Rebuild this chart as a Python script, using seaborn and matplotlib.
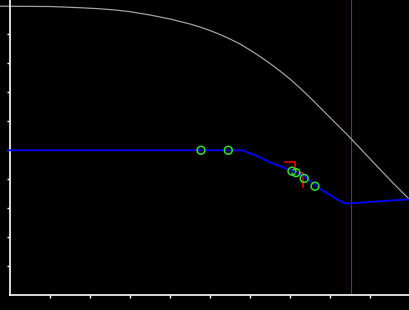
import matplotlib
matplotlib.use("Agg")
import matplotlib.pyplot as plt
import seaborn as sns
import pandas as pd

# Gray reference curve
gray_x = [-0.25, 1.0, 1.75, 2.25, 2.625, 3.0, 3.5, 4.0, 4.5, 4.75, 5.0, 5.25, 5.5, 5.75, 6.0, 6.25,
          6.5, 6.75, 7.0, 7.25, 7.5, 7.75, 8.0, 8.25, 8.5, 9.075, 9.575, 10.0]
gray_y = [9.959, 9.948, 9.907, 9.869, 9.828, 9.769, 9.655, 9.517, 9.345, 9.241, 9.121, 8.983, 8.828, 8.655, 8.448, 8.224,
          7.983, 7.724, 7.448, 7.138, 6.810, 6.466, 6.121, 5.776, 5.431, 4.586, 3.862, 3.276]

# Blue response curve
blue_x = [-0.05, 5.825, 5.95, 6.175, 6.5, 6.75, 7.0, 7.4, 7.675, 7.925, 8.175, 8.375, 8.5, 8.75, 9.0, 9.325, 9.75, 10.0]
blue_y = [4.99, 4.99, 4.91, 4.80, 4.57, 4.45, 4.31, 4.07, 3.73, 3.51, 3.30, 3.16, 3.16, 3.18, 3.21, 3.24, 3.28, 3.30]

# Green circle points
pts_x = [4.775, 5.4575, 7.05, 7.15, 7.355, 7.625]
pts_y = [4.99, 4.99, 4.27, 4.22, 4.02, 3.75]

# Red step mask
red_x = [6.875, 7.1125, 7.3175]
red_y = [4.576, 4.224, 3.734]

# Vertical marker
vline_x = 8.53

xticks = [1, 2, 3, 4, 5, 6, 7, 8, 9]
yticks = [1, 2, 3, 4, 5, 6, 7, 8, 9]

sns.set_style("dark", {"axes.facecolor": "black", "figure.facecolor": "black"})
plt.rcParams["font.family"] = ["DejaVu Sans"]

fig = plt.figure(figsize=(4.1, 3.1), dpi=100)
fig.patch.set_facecolor("black")
ax = fig.add_axes([10 / 410, 15 / 310, 400 / 410, 295 / 310])
ax.set_facecolor("black")

ax.axvline(vline_x, color="#8c148c", lw=0.8, zorder=1)

gray_df = pd.DataFrame({"x": gray_x, "y": gray_y})
sns.lineplot(data=gray_df, x="x", y="y", ax=ax, color="#a0a0a0", lw=0.9,
             estimator=None, sort=False, clip_on=False, zorder=2)

ax.plot(red_x, red_y, drawstyle="steps-post", color="#cc0000", lw=1.4, zorder=3)

blue_df = pd.DataFrame({"x": blue_x, "y": blue_y})
sns.lineplot(data=blue_df, x="x", y="y", ax=ax, color="#0000ff", lw=1.3,
             estimator=None, sort=False, clip_on=False, zorder=4)

pts_df = pd.DataFrame({"x": pts_x, "y": pts_y})
sns.scatterplot(data=pts_df, x="x", y="y", ax=ax, s=32, facecolor="none",
                edgecolor="#33dd33", linewidth=1.1, zorder=5)
sns.scatterplot(data=pts_df, x="x", y="y", ax=ax, s=3, color="#000040",
                linewidth=0, zorder=6)

ax.set_xlim(0, 10)
ax.set_ylim(0, 295 / 29)
ax.set_xticks(xticks)
ax.set_yticks(yticks)
ax.set_xticklabels([])
ax.set_yticklabels([])
ax.set_xlabel("")
ax.set_ylabel("")
ax.grid(False)

for s in ["top", "right"]:
    ax.spines[s].set_visible(False)
for s in ["left", "bottom"]:
    ax.spines[s].set_visible(True)
    ax.spines[s].set_color("white")
    ax.spines[s].set_linewidth(1.2)
ax.tick_params(axis="both", colors="white", direction="out", length=2.5, width=1.0,
               bottom=True, left=True)

fig.savefig("out.png", dpi=100, facecolor="black")
